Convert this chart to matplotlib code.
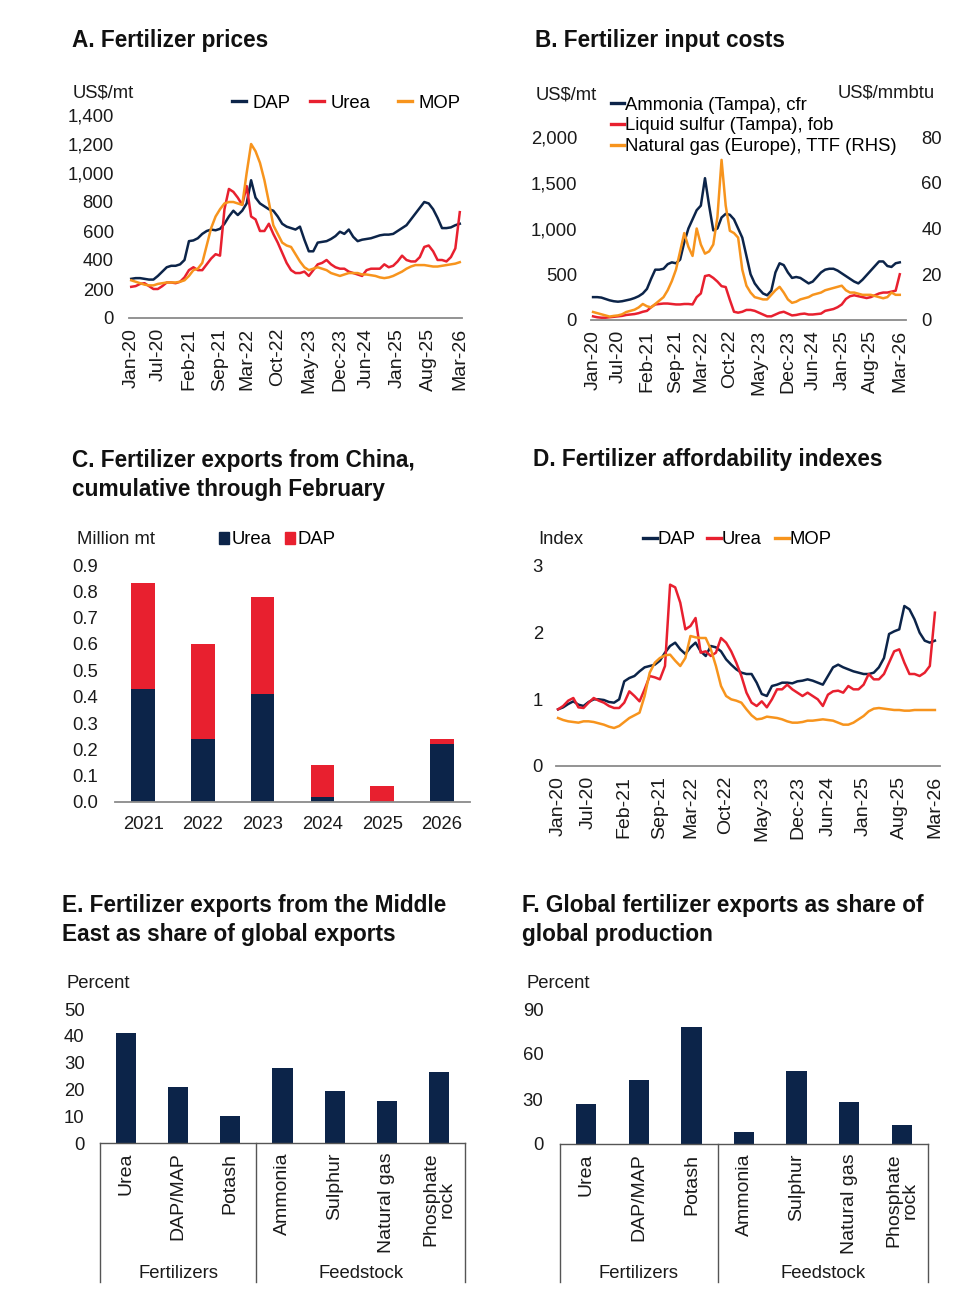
import numpy as np
import matplotlib
matplotlib.use("Agg")
import matplotlib.pyplot as plt
from matplotlib.lines import Line2D
from matplotlib.patches import Patch
import matplotlib.transforms as mtrans

plt.rcParams['font.family'] = ['Liberation Sans', 'DejaVu Sans']

# ---------------- DATA ----------------
month_tick_pos = [0, 6, 13, 20, 26, 33, 40, 47, 53, 60, 67, 74]
month_tick_labels = ["Jan-20", "Jul-20", "Feb-21", "Sep-21", "Mar-22", "Oct-22",
                     "May-23", "Dec-23", "Jun-24", "Jan-25", "Aug-25", "Mar-26"]

# A. Fertilizer prices (US$/mt), monthly Jan-20 .. Mar-26
price_dap = [270, 275, 275, 270, 265, 265, 290, 320, 350, 360, 360, 370,
             400, 530, 535, 550, 580, 600, 610, 605, 615, 650, 700, 740,
             710, 740, 790, 950, 830, 790, 770, 750, 740, 700, 650, 630,
             620, 610, 630, 540, 460, 460, 520, 525, 530, 545, 565, 595,
             580, 610, 560, 530, 540, 545, 550, 560, 570, 575, 575, 580,
             600, 620, 640, 680, 720, 760, 800, 790, 750, 690, 620, 620,
             625, 640, 650]
price_urea = [215, 220, 235, 240, 220, 200, 200, 220, 245, 245, 240, 250,
              280, 330, 350, 330, 330, 370, 410, 440, 430, 750, 890, 870,
              830, 780, 910, 700, 680, 600, 600, 650, 580, 520, 450, 380,
              330, 310, 310, 320, 290, 330, 370, 380, 400, 370, 350, 340,
              340, 320, 310, 300, 290, 330, 340, 340, 340, 370, 350, 360,
              390, 430, 400, 390, 390, 420, 490, 500, 460, 400, 400, 390,
              420, 480, 730]
price_mop = [260, 250, 240, 230, 225, 225, 235, 240, 245, 245, 245, 250,
             260, 290, 330, 340, 380, 500, 620, 700, 750, 790, 800, 800,
             790, 780, 1000, 1200, 1150, 1070, 950, 800, 640, 580, 520, 500,
             490, 440, 390, 350, 330, 340, 350, 340, 330, 310, 300, 290,
             300, 310, 310, 310, 300, 300, 295, 290, 280, 275, 280, 290,
             305, 320, 340, 355, 365, 365, 365, 360, 355, 355, 360, 365,
             370, 375, 385]

# B. Fertilizer input costs
cost_ammonia = [250, 250, 245, 230, 215, 205, 200, 205, 215, 225, 240, 260,
                290, 340, 450, 550, 550, 560, 610, 630, 620, 660, 850, 1000,
                1100, 1200, 1250, 1550, 1250, 980, 1000, 1120, 1160, 1150, 1100, 1000,
                900, 700, 500, 400, 340, 290, 270, 320, 520, 620, 600, 520,
                460, 470, 460, 430, 400, 420, 470, 520, 550, 560, 560, 540,
                510, 480, 450, 420, 400, 440, 490, 540, 590, 640, 640, 590,
                580, 620, 630]
cost_sulfur = [40, 30, 25, 25, 30, 35, 40, 45, 55, 60, 65, 75,
               90, 100, 140, 170, 175, 180, 180, 175, 170, 170, 175, 175,
               170, 250, 290, 480, 490, 460, 420, 370, 360, 220, 90, 80,
               90, 110, 110, 100, 80, 60, 40, 40, 60, 80, 90, 70,
               50, 55, 65, 70, 60, 60, 65, 70, 100, 110, 120, 140,
               170, 230, 260, 270, 260, 250, 240, 250, 270, 290, 300, 300,
               310, 320, 500]
cost_gas = [3.5, 3, 2.5, 2, 1.5, 1.8, 2, 2.5, 3.5, 4, 4.5, 5.5,
            7, 6, 5.5, 7, 8.5, 10, 13, 17, 22, 30, 38, 32,
            28, 40, 33, 29, 30, 33, 45, 70, 50, 39, 38, 36,
            22, 15, 12, 10, 9.5, 9, 9, 11, 13, 14.5, 12, 9,
            7.5, 8, 9, 9.5, 10, 11, 11.5, 12, 13, 13.5, 14, 14.5,
            15, 13, 12, 12, 11.5, 11, 11, 11, 10.5, 10, 9.5, 10,
            12, 11, 11]

# C. Fertilizer exports from China, cumulative through February (million mt)
china_years = ["2021", "2022", "2023", "2024", "2025", "2026"]
china_urea = [0.43, 0.24, 0.41, 0.02, 0.00, 0.22]
china_dap = [0.40, 0.36, 0.37, 0.12, 0.06, 0.02]

# D. Fertilizer affordability indexes
afford_dap = [0.85, 0.88, 0.93, 0.97, 0.92, 0.90, 0.96, 1.00, 1.00, 0.99, 0.96, 0.95,
              1.00, 1.27, 1.32, 1.35, 1.42, 1.48, 1.50, 1.52, 1.58, 1.70, 1.80, 1.85,
              1.75, 1.68, 1.78, 1.85, 1.72, 1.65, 1.80, 1.78, 1.72, 1.60, 1.52, 1.45,
              1.40, 1.38, 1.38, 1.25, 1.08, 1.05, 1.20, 1.22, 1.25, 1.25, 1.24, 1.27,
              1.28, 1.30, 1.28, 1.25, 1.22, 1.35, 1.48, 1.52, 1.48, 1.45, 1.42, 1.40,
              1.38, 1.38, 1.40, 1.48, 1.62, 1.98, 2.02, 2.05, 2.40, 2.35, 2.20, 2.00,
              1.88, 1.85, 1.88]
afford_urea = [0.85, 0.90, 0.98, 1.02, 0.88, 0.87, 0.95, 1.02, 0.98, 0.95, 0.90, 0.87,
               0.87, 0.95, 1.12, 1.05, 0.97, 1.15, 1.35, 1.33, 1.30, 1.50, 2.72, 2.68,
               2.45, 2.05, 2.10, 2.22, 1.70, 1.72, 1.65, 1.70, 1.92, 1.85, 1.72, 1.55,
               1.35, 1.10, 0.95, 0.90, 0.97, 0.88, 1.00, 1.15, 1.15, 1.22, 1.15, 1.10,
               1.05, 1.10, 1.05, 1.00, 0.90, 1.07, 1.12, 1.13, 1.10, 1.20, 1.15, 1.15,
               1.22, 1.38, 1.30, 1.30, 1.38, 1.55, 1.72, 1.75, 1.55, 1.38, 1.38, 1.35,
               1.40, 1.50, 2.30]
afford_mop = [0.72, 0.69, 0.67, 0.66, 0.65, 0.67, 0.67, 0.66, 0.64, 0.62, 0.59, 0.57,
              0.60, 0.66, 0.72, 0.76, 0.80, 1.05, 1.40, 1.55, 1.62, 1.66, 1.67, 1.58,
              1.50, 1.62, 1.95, 1.93, 1.92, 1.92, 1.75, 1.50, 1.20, 1.05, 1.00, 0.98,
              0.95, 0.85, 0.76, 0.70, 0.71, 0.74, 0.73, 0.72, 0.70, 0.67, 0.65, 0.65,
              0.66, 0.68, 0.68, 0.69, 0.70, 0.69, 0.68, 0.65, 0.62, 0.62, 0.65, 0.70,
              0.75, 0.82, 0.86, 0.87, 0.86, 0.85, 0.84, 0.84, 0.83, 0.83, 0.84, 0.84,
              0.84, 0.84, 0.84]

# E/F. Export shares (percent)
share_categories = ["Urea", "DAP/MAP", "Potash", "Ammonia", "Sulphur", "Natural gas", "Phosphate\nrock"]
share_groups = ["Fertilizers", "Feedstock"]
me_share = [41, 21, 10, 28, 19.5, 15.5, 26.5]
global_share = [27, 43, 78, 8, 49, 28, 13]

# ---------------- STYLE ----------------
NAVY = '#0c2449'
RED = '#e8202f'
ORANGE = '#f7941d'
TXT = '#1a1a1a'
AXC = '#8a8a8a'
LW = 1.8
FS = 13.3
FS_ROT = 14
FS_TITLE = 16.3

W, H = 976, 1310
fig = plt.figure(figsize=(W / 100, H / 100), dpi=100)


def box(l, t, r, b):
    return fig.add_axes([l / W, 1 - b / H, (r - l) / W, (b - t) / H])


def ft(x, y, s, **kw):
    d = dict(va='center', ha='left', fontsize=FS, color=TXT)
    d.update(kw)
    return fig.text(x / W, 1 - y / H, s, **d)


def title(x, y, s):
    ft(x, y, s, fontsize=FS_TITLE, fontweight='bold', color='#111111', linespacing=1.32)


def base_style(ax):
    for s in ['top', 'right', 'left']:
        ax.spines[s].set_visible(False)
    ax.spines['bottom'].set_color(AXC)
    ax.spines['bottom'].set_linewidth(1.3)
    ax.tick_params(length=0, labelsize=FS, colors=TXT)
    ax.patch.set_alpha(0)


def month_axis(ax, xlim):
    ax.set_xlim(*xlim)
    ax.set_xticks(month_tick_pos)
    ax.set_xticklabels(month_tick_labels, rotation=90, va='top', ha='center',
                       fontsize=FS_ROT)
    ax.tick_params(axis='x', pad=7)


def line_key(x, y, color, label, textpad=0.35):
    fig.legend([Line2D([], [], color=color, lw=2.4)], [label], loc='center left',
               bbox_to_anchor=(x / W, 1 - y / H), frameon=False, fontsize=FS,
               handlelength=0.75, handletextpad=textpad, borderpad=0, borderaxespad=0)


months = np.arange(len(price_dap))

# ---------------- A ----------------
title(72, 40, "A. Fertilizer prices")
axA = box(129, 115, 462, 318)
base_style(axA)
axA.plot(months, price_dap, color=NAVY, lw=LW)
axA.plot(months, price_urea, color=RED, lw=LW)
axA.plot(months, price_mop, color=ORANGE, lw=LW)
axA.set_ylim(0, 1400)
axA.set_yticks(range(0, 1401, 200))
axA.set_yticklabels([f"{v:,}" for v in range(0, 1401, 200)])
axA.tick_params(axis='y', pad=11)
month_axis(axA, (-0.5, 74.5))
ft(73, 93, "US$/mt")
for xk, c, lab in ((232, NAVY, "DAP"), (310, RED, "Urea"), (398, ORANGE, "MOP")):
    line_key(xk, 103, c, lab)

# ---------------- B ----------------
title(535, 40, "B. Fertilizer input costs")
axB = box(591, 137, 906, 320)
base_style(axB)
axB.plot(months, cost_ammonia, color=NAVY, lw=LW)
axB.plot(months, cost_sulfur, color=RED, lw=LW)
axB.set_ylim(0, 2000)
axB.set_yticks(range(0, 2001, 500))
axB.set_yticklabels([f"{v:,}" for v in range(0, 2001, 500)])
axB.tick_params(axis='y', pad=10)
month_axis(axB, (-0.5, 75.5))
axB2 = axB.twinx()
for s in ['top', 'right', 'left', 'bottom']:
    axB2.spines[s].set_visible(False)
axB2.plot(months, cost_gas, color=ORANGE, lw=LW)
axB2.set_ylim(0, 80)
axB2.set_yticks(range(0, 81, 20))
axB2.tick_params(length=0, labelsize=FS, colors=TXT, pad=11)
ft(536, 95, "US$/mt")
ft(838, 93, "US$/mmbtu")
fig.legend([Line2D([], [], color=c, lw=2.4) for c in (NAVY, RED, ORANGE)],
           ["Ammonia (Tampa), cfr", "Liquid sulfur (Tampa), fob", "Natural gas (Europe), TTF (RHS)"],
           loc='center left', bbox_to_anchor=(611 / W, 1 - 126 / H), ncol=1, frameon=False,
           fontsize=FS, handlelength=0.7, handletextpad=0.05, labelspacing=0.2,
           borderpad=0, borderaxespad=0)

# ---------------- C ----------------
title(72, 475, "C. Fertilizer exports from China,\ncumulative through February")
axC = box(115, 565, 470, 802)
base_style(axC)
xc = np.arange(len(china_years))
axC.bar(xc, china_urea, width=0.39, color=NAVY)
axC.bar(xc, china_dap, width=0.39, bottom=china_urea, color=RED)
axC.set_xlim(-0.47, 5.47)
axC.set_ylim(0, 0.9)
axC.set_yticks(np.arange(0, 0.91, 0.1))
axC.set_yticklabels([f"{v:.1f}" for v in np.arange(0, 0.91, 0.1)])
axC.tick_params(axis='y', pad=12)
axC.set_xticks(xc)
axC.set_xticklabels(china_years)
axC.tick_params(axis='x', pad=10)
ft(77, 540, "Million mt")
fig.legend([Patch(color=NAVY), Patch(color=RED)], ["Urea", "DAP"],
           loc='center left', bbox_to_anchor=(219 / W, 1 - 540 / H), ncol=2, frameon=False,
           fontsize=FS, handlelength=0.55, handleheight=0.55, handletextpad=0.15,
           columnspacing=0.7, borderpad=0, borderaxespad=0)

# ---------------- D ----------------
title(533, 460, "D. Fertilizer affordability indexes")
axD = box(555.5, 566, 940, 766)
base_style(axD)
axD.plot(months, afford_dap, color=NAVY, lw=LW)
axD.plot(months, afford_urea, color=RED, lw=LW)
axD.plot(months, afford_mop, color=ORANGE, lw=LW)
axD.set_ylim(0, 3)
axD.set_yticks([0, 1, 2, 3])
axD.tick_params(axis='y', pad=9)
month_axis(axD, (-0.5, 75))
ft(538, 540, "Index")
for xk, c, lab in ((643, NAVY, "DAP"), (707, RED, "Urea"), (775, ORANGE, "MOP")):
    line_key(xk, 540, c, lab, textpad=0.05)


# ---------------- E / F ----------------
def share_panel(ax, vals, ylim, yticks, ypad):
    base_style(ax)
    ax.spines['bottom'].set_color('#555555')
    ax.spines['bottom'].set_linewidth(1.0)
    x = np.arange(len(share_categories))
    ax.bar(x, vals, width=0.385, color=NAVY)
    ax.set_xlim(-0.5, 6.5)
    ax.set_ylim(*ylim)
    ax.set_yticks(yticks)
    ax.tick_params(axis='y', pad=ypad)
    ax.set_xticks(x)
    ax.set_xticklabels(share_categories, rotation=90, va='top', ha='center',
                       linespacing=0.95, fontsize=FS_ROT)
    ax.tick_params(axis='x', pad=7)


# E
title(62, 920, "E. Fertilizer exports from the Middle\nEast as share of global exports")
axE = box(100, 1009, 465, 1143)
share_panel(axE, me_share, (0, 50), range(0, 51, 10), 11)
ft(66, 984, "Percent")
# F
title(522, 920, "F. Global fertilizer exports as share of\nglobal production")
axF = box(560, 1009, 928, 1144)
share_panel(axF, global_share, (0, 90), range(0, 91, 30), 12)
ft(527, 984, "Percent")

for ax, top_px, bot_px in ((axE, 1143, 1282), (axF, 1144, 1282)):
    tr = mtrans.blended_transform_factory(ax.transData, ax.transAxes)
    hpx = ax.get_position().height * H
    ybot = -(bot_px - top_px) / hpx
    for xv in (-0.5, 2.5, 6.5):
        ax.plot([xv, xv], [0, ybot], color='#555555', lw=1.0, transform=tr, clip_on=False)
    ylab = -(1273 - top_px) / hpx
    ax.text(1, ylab, share_groups[0], transform=tr, ha='center', va='center',
            fontsize=FS, color=TXT)
    ax.text(4.5, ylab, share_groups[1], transform=tr, ha='center', va='center',
            fontsize=FS, color=TXT)

fig.savefig("out.png", dpi=100, facecolor='white')
